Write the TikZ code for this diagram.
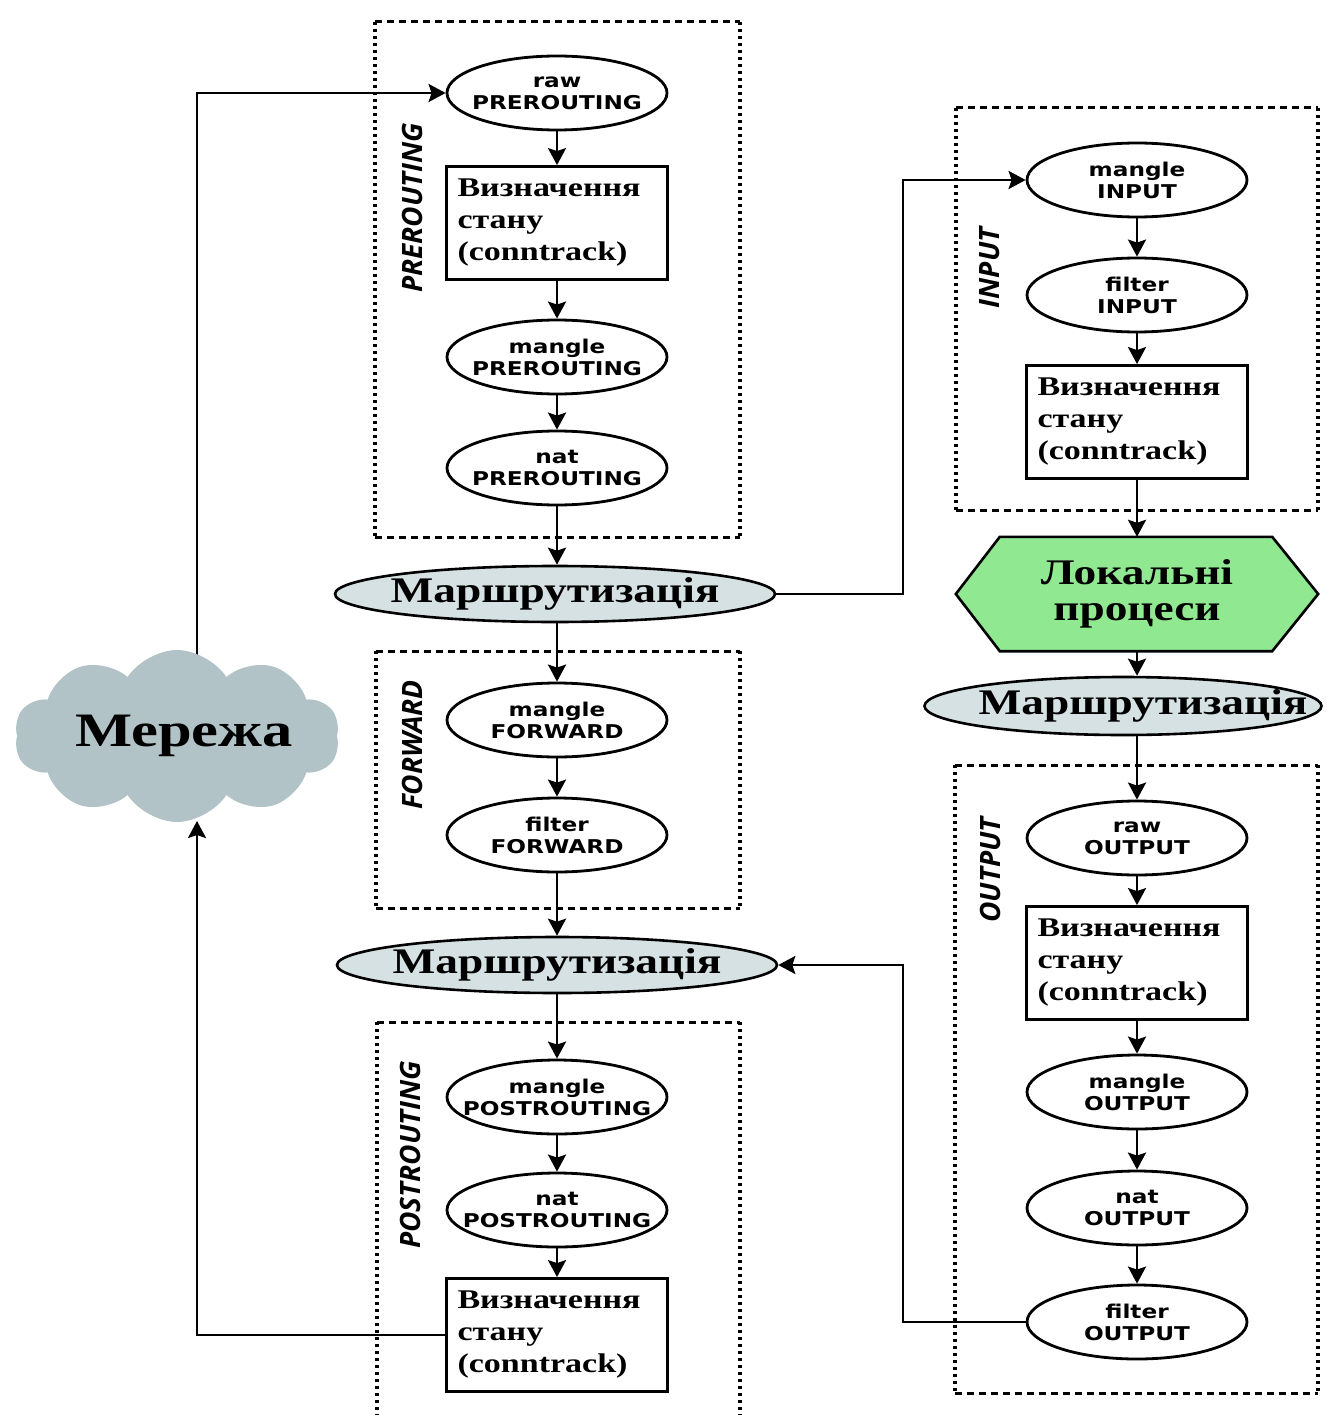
\documentclass[tikz,border=0pt]{standalone}
\usepackage{fontspec}
\setmainfont{Liberation Serif}
\newfontfamily\nodesans[FakeStretch=1.22]{DejaVu Sans}
\newfontfamily\serifwide[FakeStretch=1.26]{Liberation Serif}
\newfontfamily\chainsans{Open Sans}
\usetikzlibrary{shapes.geometric,shapes.symbols,arrows.meta,backgrounds}

\definecolor{routefill}{RGB}{213,225,226}
\definecolor{cloudfill}{RGB}{178,195,199}
\definecolor{hexfill}{RGB}{144,232,144}

\tikzset{
  tbl/.style={ellipse, draw, line width=2.8pt, minimum width=220, minimum height=74,
    inner xsep=-20pt, inner ysep=0pt, align=center,
    font=\nodesans\bfseries\fontsize{19}{22}\selectfont},
  ctbox/.style={rectangle, draw, line width=2.8pt, minimum width=221, minimum height=113,
    inner sep=0pt, text width=199, align=left,
    font=\serifwide\bfseries\fontsize{27}{32}\selectfont},
  route/.style={ellipse, draw, line width=2.6pt, fill=routefill, minimum width=440,
    minimum height=56, inner xsep=-40pt, inner ysep=-12pt,
    font=\serifwide\bfseries\fontsize{36}{40}\selectfont},
  chainlabel/.style={rotate=90, inner sep=0pt,
    font=\chainsans\bfseries\itshape\fontsize{28}{28}\selectfont},
  hexbox/.style={rectangle, minimum width=362, minimum height=114, inner sep=0pt,
    align=center, font=\serifwide\bfseries\fontsize{36}{36}\selectfont},
  hexline/.style={draw, line width=2.6pt, fill=hexfill},
  netcloud/.style={cloud, cloud puffs=10, cloud puff arc=115, cloud ignores aspect,
    fill=cloudfill, minimum width=325, minimum height=172, inner sep=-20pt,
    font=\serifwide\bfseries\fontsize{48}{48}\selectfont},
  conn/.style={line width=2.6pt, -{Stealth[length=17pt,width=18pt,inset=3pt]}},
  framedash/.style={line width=3pt, dash pattern=on 7pt off 5pt},
  framedot/.style={line width=3.2pt, dash pattern=on 3pt off 4pt},
}

% dashed top/bottom, dotted sides: one chain of the packet path
\newcommand\stageframe[4]{%
  \draw[framedash] (#1,#2) -- (#3,#2);
  \draw[framedash] (#1,#4) -- (#3,#4);
  \draw[framedot] (#1,#2) -- (#1,#4);
  \draw[framedot] (#3,#2) -- (#3,#4);
}

\begin{document}
\begin{tikzpicture}[x=1pt,y=-1pt]
\useasboundingbox (0,0) rectangle (1325,1415);
\begin{pgfonlayer}{background}
  \fill[white] (0,0) rectangle (1325,1415);
\end{pgfonlayer}

% chain frames
\stageframe{375}{22}{740}{537}
\stageframe{376}{651}{740}{908}
\stageframe{377}{1022}{740}{1425}
\stageframe{956}{108}{1318}{510}
\stageframe{955}{765}{1318}{1393}

\node[chainlabel] (lpre)  at (412,208)  {PREROUTING};
\node[chainlabel] (lfwd)  at (412,745)  {FORWARD};
\node[chainlabel] (lpost) at (410,1155) {POSTROUTING};
\node[chainlabel] (lin)   at (990,268)  {INPUT};
\node[chainlabel] (lout)  at (990,870)  {OUTPUT};

% incoming path
\node[tbl]   (rawpre)  at (557,93)   {raw\\PREROUTING};
\node[ctbox] (ctpre)   at (557,223)  {Визначення\\стану\\(conntrack)};
\node[tbl]   (manpre)  at (557,357)  {mangle\\PREROUTING};
\node[tbl]   (natpre)  at (557,468)  {nat\\PREROUTING};
\node[route] (route1)  at (555,594)  {Маршрутизація};

% forwarded path
\node[tbl]   (manfwd)  at (557,720)  {mangle\\FORWARD};
\node[tbl]   (filfwd)  at (557,835)  {filter\\FORWARD};
\node[route] (route2)  at (557,965)  {Маршрутизація};
\node[tbl]   (manpost) at (557,1097) {mangle\\POSTROUTING};
\node[tbl]   (natpost) at (557,1210) {nat\\POSTROUTING};
\node[ctbox] (ctpost)  at (557,1335) {Визначення\\стану\\(conntrack)};

% local delivery
\node[tbl]   (manin)   at (1137,180) {mangle\\INPUT};
\node[tbl]   (filin)   at (1137,295) {filter\\INPUT};
\node[ctbox] (ctin)    at (1137,422) {Визначення\\стану\\(conntrack)};
\node[hexbox] (local)  at (1137,594) {Локальні\\процеси};
\begin{pgfonlayer}{background}
  \path[hexline] (local.west) -- ([xshift=44]local.north west)
    -- ([xshift=-46]local.north east) -- (local.east)
    -- ([xshift=-46]local.south east) -- ([xshift=44]local.south west) -- cycle;
\end{pgfonlayer}
\node[route, minimum width=397, minimum height=58, inner xsep=-70pt] (route3) at (1123,706)
  {\hspace*{40pt}Маршрутизація};

% locally generated path
\node[tbl]   (rawout)  at (1137,838)  {raw\\OUTPUT};
\node[ctbox] (ctout)   at (1137,963)  {Визначення\\стану\\(conntrack)};
\node[tbl]   (manout)  at (1137,1092) {mangle\\OUTPUT};
\node[tbl]   (natout)  at (1137,1208) {nat\\OUTPUT};
\node[tbl]   (filout)  at (1137,1322) {filter\\OUTPUT};

% network
\node[netcloud] (net) at (177,736) {\hspace*{14pt}Мережа};
\coordinate (netbottom) at (197,821);
\coordinate (jog) at (903,0);

% vertical flow
\draw[conn] (rawpre) -- (ctpre);
\draw[conn] (ctpre) -- (manpre);
\draw[conn] (manpre) -- (natpre);
\draw[conn] (natpre.south) -- (natpre.south |- route1.north);
\draw[conn] (manfwd.north |- route1.south) -- (manfwd.north);
\draw[conn] (manfwd) -- (filfwd);
\draw[conn] (filfwd) -- (route2);
\draw[conn] (route2) -- (manpost);
\draw[conn] (manpost) -- (natpost);
\draw[conn] (natpost) -- (ctpost);

\draw[conn] (manin) -- (filin);
\draw[conn] (filin) -- (ctin);
\draw[conn] (ctin) -- (local);
\draw[conn] (local.south) -- (local.south |- route3.north);
\draw[conn] (rawout.north |- route3.south) -- (rawout.north);
\draw[conn] (rawout) -- (ctout);
\draw[conn] (ctout) -- (manout);
\draw[conn] (manout) -- (natout);
\draw[conn] (natout) -- (filout);

% side links
\draw[conn] (route1.east) -- (route1.east -| jog) |- (manin.west);
\draw[conn] (filout.west) -- (filout.west -| jog) |- (route2.east);
\draw[conn] (ctpost.west) -| (netbottom);
\begin{pgfonlayer}{background}
  \draw[conn] ([xshift=20]net.center) |- (rawpre.west);
\end{pgfonlayer}
\end{tikzpicture}
\end{document}
